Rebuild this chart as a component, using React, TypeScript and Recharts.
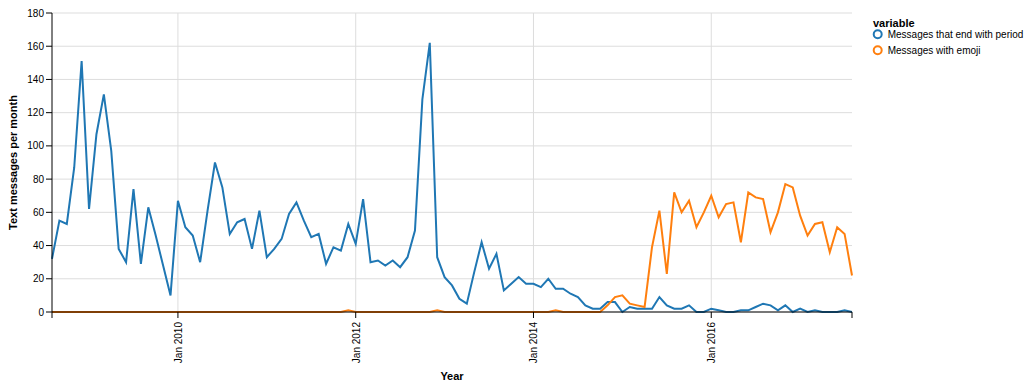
import React from 'react';
import { LineChart, Line, XAxis, YAxis, CartesianGrid } from 'recharts';

// one entry per month, Aug 2008 - Aug 2017
const months = [
  '2008-08', '2008-09', '2008-10', '2008-11', '2008-12',
  '2009-01', '2009-02', '2009-03', '2009-04', '2009-05', '2009-06', '2009-07', '2009-08', '2009-09', '2009-10', '2009-11', '2009-12',
  '2010-01', '2010-02', '2010-03', '2010-04', '2010-05', '2010-06', '2010-07', '2010-08', '2010-09', '2010-10', '2010-11', '2010-12',
  '2011-01', '2011-02', '2011-03', '2011-04', '2011-05', '2011-06', '2011-07', '2011-08', '2011-09', '2011-10', '2011-11', '2011-12',
  '2012-01', '2012-02', '2012-03', '2012-04', '2012-05', '2012-06', '2012-07', '2012-08', '2012-09', '2012-10', '2012-11', '2012-12',
  '2013-01', '2013-02', '2013-03', '2013-04', '2013-05', '2013-06', '2013-07', '2013-08', '2013-09', '2013-10', '2013-11', '2013-12',
  '2014-01', '2014-02', '2014-03', '2014-04', '2014-05', '2014-06', '2014-07', '2014-08', '2014-09', '2014-10', '2014-11', '2014-12',
  '2015-01', '2015-02', '2015-03', '2015-04', '2015-05', '2015-06', '2015-07', '2015-08', '2015-09', '2015-10', '2015-11', '2015-12',
  '2016-01', '2016-02', '2016-03', '2016-04', '2016-05', '2016-06', '2016-07', '2016-08', '2016-09', '2016-10', '2016-11', '2016-12',
  '2017-01', '2017-02', '2017-03', '2017-04', '2017-05', '2017-06', '2017-07', '2017-08',
];

const periodMessages = [
  32, 55, 53, 87, 151,
  62, 107, 131, 97, 38, 30, 74, 29, 63, 46, 28, 10,
  67, 51, 46, 30, 61, 90, 75, 47, 54, 56, 38, 61,
  33, 38, 44, 59, 66, 55, 45, 47, 29, 39, 37, 53,
  41, 68, 30, 31, 28, 31, 27, 33, 49, 128, 162, 33,
  21, 16, 8, 5, 24, 42, 26, 35, 13, 17, 21, 17,
  17, 15, 20, 14, 14, 11, 9, 4, 2, 2, 6, 6,
  0, 3, 2, 2, 2, 9, 4, 2, 2, 4, 0, 0,
  2, 1, 0, 0, 1, 1, 3, 5, 4, 1, 4, 0,
  2, 0, 1, 0, 0, 0, 1, 0,
];

const emojiMessages = [
  0, 0, 0, 0, 0,
  0, 0, 0, 0, 0, 0, 0, 0, 0, 0, 0, 0,
  0, 0, 0, 0, 0, 0, 0, 0, 0, 0, 0, 0,
  0, 0, 0, 0, 0, 0, 0, 0, 0, 0, 0, 1,
  0, 0, 0, 0, 0, 0, 0, 0, 0, 0, 0, 1,
  0, 0, 0, 0, 0, 0, 0, 0, 0, 0, 0, 0,
  0, 0, 0, 1, 0, 0, 0, 0, 0, 0, 4, 9,
  10, 5, 4, 3, 39, 61, 23, 72, 60, 67, 51, 60,
  70, 57, 65, 66, 42, 72, 69, 68, 48, 60, 77, 75,
  58, 46, 53, 54, 36, 51, 47, 22,
];

const yTicks = [0, 20, 40, 60, 80, 100, 120, 140, 160, 180];
const xTickMonths = ['2010-01', '2012-01', '2014-01', '2016-01'];
const xTickLabels = ['Jan 2010', 'Jan 2012', 'Jan 2014', 'Jan 2016'];
const seriesNames = ['Messages that end with period', 'Messages with emoji'];
const seriesColors = ['#1f77b4', '#ff7f0e'];

const FONT = '"Liberation Sans", Arial, Helvetica, sans-serif';

const data = months.map((month, i) => ({
  month,
  period: periodMessages[i],
  emoji: emojiMessages[i],
}));

const MonthTick = (props: any) => {
  const { x, y, payload } = props;
  const idx = xTickMonths.indexOf(payload.value);
  if (idx < 0) return null;
  return (
    <text
      transform={`translate(${x + 0.5},${y + 2}) rotate(-90)`}
      textAnchor="end"
      dominantBaseline="central"
      fontSize={10}
      fontFamily={FONT}
      fill="#000"
    >
      {xTickLabels[idx]}
    </text>
  );
};

const YTitle = (props: any) => {
  const vb = props.viewBox || { y: 13, height: 299 };
  const cy = vb.y + vb.height / 2;
  return (
    <text
      transform={`translate(12.5,${cy}) rotate(-90)`}
      textAnchor="middle"
      dominantBaseline="central"
      fontSize={11}
      fontWeight="bold"
      fontFamily={FONT}
      fill="#000"
    >
      Text messages per month
    </text>
  );
};

const XTitle = (props: any) => {
  const vb = props.viewBox || { x: 52, y: 312, width: 800 };
  return (
    <text
      x={vb.x + vb.width / 2}
      y={vb.y + 68}
      textAnchor="middle"
      fontSize={11}
      fontWeight="bold"
      fontFamily={FONT}
      fill="#000"
    >
      Year
    </text>
  );
};

const App = () => {
  return (
    <div style={{ position: 'absolute', left: 0, top: 0, width: 1033, height: 388 }}>
      <LineChart
        width={1033}
        height={388}
        data={data}
        margin={{ top: 13, right: 181, bottom: 0, left: 0 }}
      >
        <CartesianGrid stroke="#ddd" verticalValues={xTickMonths} />
        <XAxis
          dataKey="month"
          ticks={[months[0], ...xTickMonths, months[months.length - 1]]}
          interval={0}
          height={76}
          tick={<MonthTick />}
          tickLine={{ stroke: '#000' }}
          axisLine={{ stroke: '#000' }}
          label={<XTitle />}
        />
        <YAxis
          width={52}
          domain={[0, 180]}
          ticks={yTicks}
          interval={0}
          tick={{ fontSize: 10, fontFamily: FONT, fill: '#000' }}
          tickLine={{ stroke: '#000' }}
          axisLine={{ stroke: '#000' }}
          label={<YTitle />}
        />
        <Line
          type="linear"
          dataKey="period"
          name={seriesNames[0]}
          stroke={seriesColors[0]}
          strokeWidth={2}
          dot={false}
          isAnimationActive={false}
        />
        <Line
          type="linear"
          dataKey="emoji"
          name={seriesNames[1]}
          stroke={seriesColors[1]}
          strokeWidth={2}
          dot={false}
          isAnimationActive={false}
        />
      </LineChart>
      <svg
        width={1033}
        height={60}
        style={{ position: 'absolute', left: 0, top: 0, pointerEvents: 'none' }}
      >
        <text x={873} y={27} fontSize={11} fontWeight="bold" fontFamily={FONT} fill="#000">
          variable
        </text>
        {seriesNames.map((name, i) => (
          <g key={name}>
            <circle cx={877.7} cy={34.3 + i * 16} r={4} fill="#fff" stroke={seriesColors[i]} strokeWidth={2} />
            <text
              x={887.7}
              y={34.3 + i * 16}
              dominantBaseline="central"
              fontSize={10}
              fontFamily={FONT}
              fill="#000"
            >
              {name}
            </text>
          </g>
        ))}
      </svg>
    </div>
  );
};

export default App;
